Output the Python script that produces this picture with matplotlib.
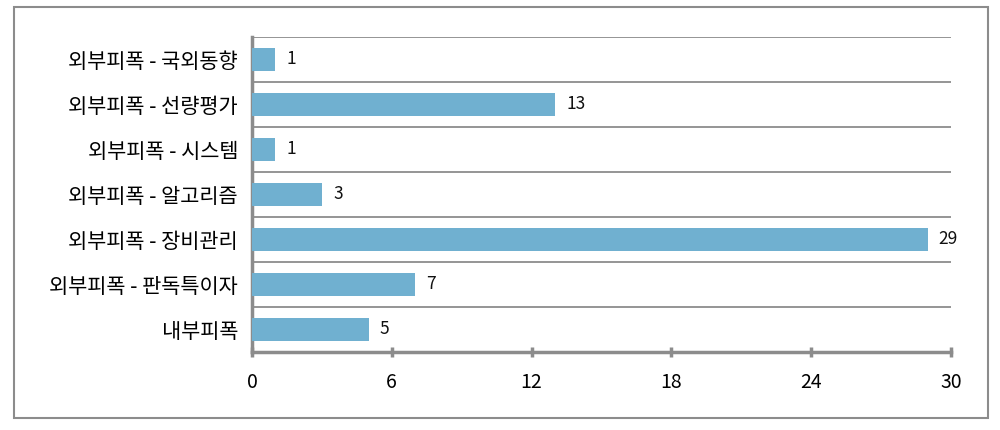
import matplotlib
matplotlib.use("Agg")
import matplotlib.pyplot as plt
from matplotlib.patches import Rectangle

plt.rcParams['font.family'] = ['Noto Sans CJK KR', 'DejaVu Sans']

categories = ['외부피폭 - 국외동향', '외부피폭 - 선량평가', '외부피폭 - 시스템',
              '외부피폭 - 알고리즘', '외부피폭 - 장비관리', '외부피폭 - 판독특이자', '내부피폭']
values = [1, 13, 1, 3, 29, 7, 5]
xticks = [0, 6, 12, 18, 24, 30]

bar_color = '#70B0D0'
grid_color = '#8C8C8C'

fig = plt.figure(figsize=(10, 4.3), dpi=100)
ax = fig.add_axes([0.252, 0.1814, 0.699, 0.7326])

y = list(range(len(categories)))
ax.barh(y, values, height=0.52, color=bar_color, zorder=3)

# label each bar with its value
for yi, v in zip(y, values):
    ax.annotate(str(v), xy=(v, yi), xytext=(8, 0), textcoords='offset points',
                va='center', ha='left', fontsize=12.5, color='#111111')

# horizontal separators between categories
for k in range(len(categories)):
    ax.axhline(k - 0.5, color=grid_color, lw=1.3, zorder=1)

ax.set_xlim(0, 30)
ax.set_ylim(len(categories) - 0.5, -0.5)
ax.set_xticks(xticks)
ax.set_yticks(y)
ax.set_yticklabels(categories, fontsize=15)

for s in ['top', 'right']:
    ax.spines[s].set_visible(False)
for s in ['left', 'bottom']:
    ax.spines[s].set_color(grid_color)
    ax.spines[s].set_linewidth(2.5)

ax.tick_params(axis='y', length=0, pad=10)
ax.tick_params(axis='x', direction='inout', length=7, width=2.5, color=grid_color,
               pad=11, labelsize=14)

# outer border of the chart
fig.patches.append(Rectangle((0.014, 0.028), 0.974, 0.955, transform=fig.transFigure,
                             fill=False, edgecolor=grid_color, lw=1.5))

fig.savefig('out.png', dpi=100)
